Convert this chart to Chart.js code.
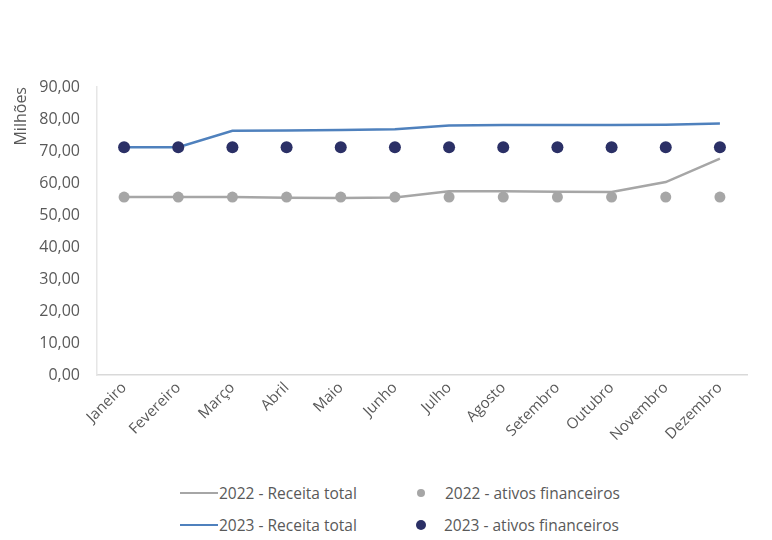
<!DOCTYPE html>
<html>
<head>
<meta charset="utf-8">
<script src="https://cdn.jsdelivr.net/npm/chart.js@4/dist/chart.umd.min.js"></script>
<style>
  html, body { margin: 0; padding: 0; background: #fff; }
  #wrap { position: relative; width: 772px; height: 540px; }
  #chartBox { position: absolute; left: 0; top: 0; width: 772px; height: 470px; }
  #legend { position: absolute; left: 0; top: 470px; width: 772px; height: 70px;
            font-family: 'Open Sans', sans-serif; font-size: 15.5px; color: #595959; }
  .item { position: absolute; display: flex; align-items: center; white-space: nowrap; }
  .line { width: 38px; height: 0; border-top: 2px solid; margin-right: 1px; }
  .dot { border-radius: 50%; }
</style>
</head>
<body>
<div id="wrap">
  <div id="chartBox"><canvas id="myChart"></canvas></div>
  <div id="legend"></div>
</div>
<script>
// Chart data
const months = ['Janeiro', 'Fevereiro', 'Março', 'Abril', 'Maio', 'Junho',
                'Julho', 'Agosto', 'Setembro', 'Outubro', 'Novembro', 'Dezembro'];
const receita2022 = [55.6, 55.6, 55.6, 55.4, 55.3, 55.5, 57.4, 57.4, 57.3, 57.2, 60.3, 67.6];
const receita2023 = [71.2, 71.2, 76.3, 76.4, 76.6, 76.8, 78.0, 78.1, 78.1, 78.1, 78.2, 78.6];
const ativos2022 = [55.6, 55.6, 55.6, 55.6, 55.6, 55.6, 55.6, 55.6, 55.6, 55.6, 55.6, 55.6];
const ativos2023 = [71.2, 71.2, 71.2, 71.2, 71.2, 71.2, 71.2, 71.2, 71.2, 71.2, 71.2, 71.2];
const yTicks = [0, 10, 20, 30, 40, 50, 60, 70, 80, 90];

const GREY = '#a6a6a6';
const BLUE = '#4f81bd';
const NAVY = '#2b3066';
const TEXT = '#595959';

Chart.defaults.font.family = "'Open Sans', sans-serif";
Chart.defaults.font.size = 16;
Chart.defaults.color = TEXT;

const ctx = document.getElementById('myChart').getContext('2d');
const myChart = new Chart(ctx, {
    type: 'line',
    data: {
        labels: months,
        datasets: [
            { label: '2022 - Receita total', data: receita2022, borderColor: GREY, borderWidth: 2.5,
              pointRadius: 0, tension: 0, order: 2 },
            { label: '2022 - ativos financeiros', data: ativos2022, showLine: false,
              pointRadius: 5.5, pointBackgroundColor: GREY, pointBorderWidth: 0, order: 1 },
            { label: '2023 - Receita total', data: receita2023, borderColor: BLUE, borderWidth: 2.5,
              pointRadius: 0, tension: 0, order: 2 },
            { label: '2023 - ativos financeiros', data: ativos2023, showLine: false,
              pointRadius: 6, pointBackgroundColor: NAVY, pointBorderWidth: 0, order: 1 }
        ]
    },
    options: {
        responsive: true,
        maintainAspectRatio: false,
        animation: false,
        layout: { padding: { top: 87, right: 25, left: 0, bottom: 0 } },
        plugins: { legend: { display: false }, tooltip: { enabled: false } },
        scales: {
            x: {
                offset: true,
                grid: { display: false, drawTicks: false },
                border: { display: true, color: '#d9d9d9', width: 1.5 },
                ticks: { maxRotation: 45, minRotation: 45, padding: 4, autoSkip: false,
                         font: { size: 15 } },
                afterFit: scale => { scale.height = 95; }
            },
            y: {
                min: 0,
                max: 90,
                afterBuildTicks: scale => { scale.ticks = yTicks.map(v => ({ value: v })); },
                grid: { display: false, drawTicks: false },
                border: { display: true, color: '#e6e6e6', width: 1.5 },
                ticks: {
                    padding: 17,
                    callback: v => v.toFixed(2).replace('.', ',')
                },
                title: { display: true, text: 'Milhões', align: 'end',
                         padding: { top: 12, bottom: 0 } },
                afterFit: scale => { scale.width = 97; }
            }
        }
    }
});

// Legend in two rows of two, like the original
const legendItems = [
    { text: '2022 - Receita total', kind: 'line', color: GREY, x: 180, y: 23 },
    { text: '2022 - ativos financeiros', kind: 'dot', color: GREY, size: 8, x: 417, y: 23 },
    { text: '2023 - Receita total', kind: 'line', color: BLUE, x: 180, y: 55 },
    { text: '2023 - ativos financeiros', kind: 'dot', color: NAVY, size: 10, x: 416, y: 55 }
];
const legend = document.getElementById('legend');
legendItems.forEach(item => {
    const el = document.createElement('div');
    el.className = 'item';
    el.style.left = item.x + 'px';
    el.style.top = (item.y - 11) + 'px';
    el.style.height = '22px';
    const mark = document.createElement('span');
    if (item.kind === 'line') {
        mark.className = 'line';
        mark.style.borderTopColor = item.color;
    } else {
        mark.className = 'dot';
        mark.style.width = item.size + 'px';
        mark.style.height = item.size + 'px';
        mark.style.background = item.color;
        mark.style.marginRight = (28 - item.size) + 'px';
    }
    const label = document.createElement('span');
    label.textContent = item.text;
    el.appendChild(mark);
    el.appendChild(label);
    legend.appendChild(el);
});
</script>
</body>
</html>
